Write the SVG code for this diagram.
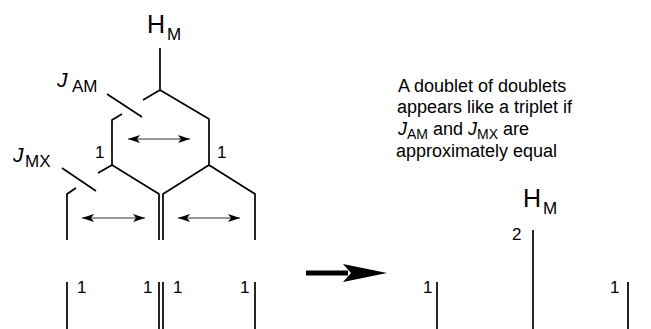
<svg xmlns="http://www.w3.org/2000/svg" width="651" height="329" viewBox="0 0 651 329">
<style>
text{font-family:"Liberation Sans",Arial,sans-serif;fill:#000}
.big{font-size:25px}
.sub{font-size:17px}
.ji{font-size:21px;font-style:italic}
.num{font-size:17px}
.note{font-size:18px}
.nsub{font-size:14px}
.ln{stroke:#000;stroke-width:1.7;fill:none;stroke-linecap:butt;stroke-linejoin:miter}
.dbl{stroke:#333;stroke-width:1.2;fill:none}
</style>
<defs>
<marker id="ah" viewBox="0 0 12 8" refX="12" refY="4" markerWidth="12" markerHeight="8" markerUnits="userSpaceOnUse" orient="auto-start-reverse">
<path d="M0,0 L12,4 L0,8 L3,4 Z" fill="#000"/>
</marker>
</defs>
<g id="labels">
<text class="big" x="147" y="33">H</text><text class="sub" x="167" y="40">M</text>
<text class="ji" x="57" y="87">J</text><text class="sub" x="72" y="92">AM</text>
<text class="ji" x="13" y="162">J</text><text class="sub" x="25" y="167">MX</text>
<text class="num" x="95" y="158">1</text>
<text class="num" x="217" y="158">1</text>
<text class="num" x="77" y="293">1</text>
<text class="num" x="143" y="293">1</text>
<text class="num" x="173" y="293">1</text>
<text class="num" x="240" y="293">1</text>
</g>
<g id="note">
<text class="note" x="398" y="92">A doublet of doublets</text>
<text class="note" x="397" y="113">appears like a triplet if</text>
<text class="note" x="398" y="135"><tspan font-style="italic">J</tspan><tspan class="nsub" dy="4">AM</tspan><tspan dy="-4"> and </tspan><tspan font-style="italic">J</tspan><tspan class="nsub" dy="4">MX</tspan><tspan dy="-4"> are</tspan></text>
<text class="note" x="396" y="157">approximately equal</text>
</g>
<g id="tree">
<path class="ln" d="M160,48 V90 L209,119 V165 M160,90 L143,100 M122,114 L112,120 V165 M107,94 L142,117"/>
<path class="ln" d="M112,165 L98,173 M112,165 L159,194 V240 M209,165 L163,194 V240 M209,165 L255,194 V240 M76,188 L67,194 V240 M62,168 L96,191"/>
<path class="ln" d="M67,282 V329 M159,282 V329 M163,282 V329 M255,282 V329"/>
</g>
<g id="connectors">
<line class="dbl" x1="128" y1="139" x2="190" y2="139" marker-start="url(#ah)" marker-end="url(#ah)"/>
<line class="dbl" x1="82" y1="218" x2="145" y2="218" marker-start="url(#ah)" marker-end="url(#ah)"/>
<line class="dbl" x1="178" y1="218" x2="240" y2="218" marker-start="url(#ah)" marker-end="url(#ah)"/>
<g id="bigarrow">
<rect x="306" y="270.5" width="42" height="5" fill="#000"/>
<path d="M343,264 L387,273 L343,282 L351,273 Z" fill="#000"/>
</g>
</g>
<g id="spectrum">
<path class="ln" d="M437,282 V329 M533,230 V329 M628,282 V329"/>
<text class="big" x="523" y="207">H</text><text class="sub" x="543" y="214">M</text>
<text class="num" x="512" y="240">2</text>
<text class="num" x="423" y="293">1</text>
<text class="num" x="610" y="293">1</text>
</g>
</svg>
